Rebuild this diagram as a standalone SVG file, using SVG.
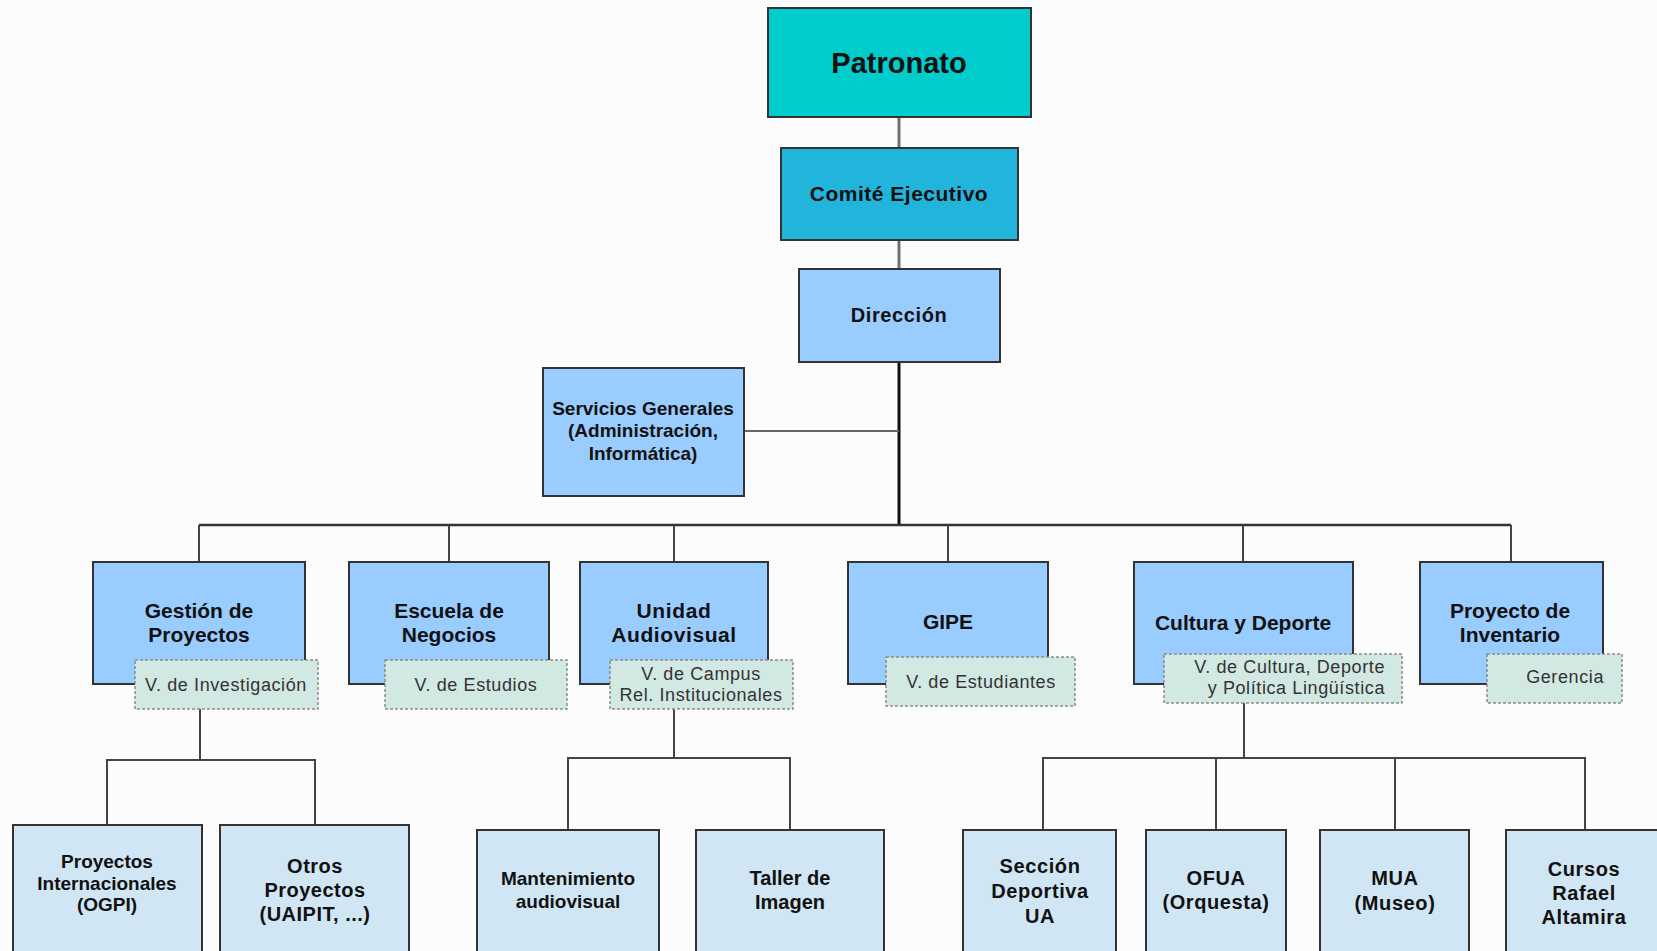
<svg xmlns="http://www.w3.org/2000/svg" width="1657" height="951" viewBox="0 0 1657 951">
<style>
.bx{stroke:#333;stroke-width:2}
.top{fill:#00CCCC}
.ce{fill:#22B5DB}
.l2{fill:#99CCFF}
.l3{fill:#D0E6F5}
.tag{fill:#D2E8E3;stroke:#8a8a8a;stroke-width:1.5;stroke-dasharray:3 2}
.t{font-family:"Liberation Sans",Arial,sans-serif;font-weight:bold;fill:#111;text-anchor:middle}
.tg{font-family:"Liberation Sans",Arial,sans-serif;font-size:18px;letter-spacing:0.6px;fill:#333;text-anchor:middle}
.tr{text-anchor:end}
.c{stroke:#444;stroke-width:2;fill:none}
.cg{stroke:#707070;stroke-width:3;fill:none}
.main{stroke:#111;stroke-width:3;fill:none}
</style>
<rect x="0" y="0" width="1657" height="951" fill="#FCFCFC"/>
<g id="connectors">
<line class="cg" x1="899" y1="117" x2="899" y2="148"/>
<line class="cg" x1="899" y1="240" x2="899" y2="269"/>
<line class="main" x1="899" y1="362" x2="899" y2="526"/>
<line class="c" x1="745" y1="431" x2="899" y2="431" style="stroke:#666"/>
<line class="c" x1="199" y1="525" x2="1511" y2="525" style="stroke-width:2.5;stroke:#333"/>
<line class="c" x1="199" y1="525" x2="199" y2="562"/>
<line class="c" x1="449" y1="525" x2="449" y2="562"/>
<line class="c" x1="674" y1="525" x2="674" y2="562"/>
<line class="c" x1="948" y1="525" x2="948" y2="562"/>
<line class="c" x1="1243" y1="525" x2="1243" y2="562"/>
<line class="c" x1="1511" y1="525" x2="1511" y2="562"/>
<polyline class="c" points="200,709 200,760"/>
<polyline class="c" points="107,825 107,760 315,760 315,825"/>
<polyline class="c" points="674,709 674,758"/>
<polyline class="c" points="568,830 568,758 790,758 790,830"/>
<polyline class="c" points="1244,703 1244,758"/>
<polyline class="c" points="1043,830 1043,758 1585,758 1585,830"/>
<line class="c" x1="1216" y1="758" x2="1216" y2="830"/>
<line class="c" x1="1395" y1="758" x2="1395" y2="830"/>
</g>
<g id="patronato">
<rect class="bx top" x="768" y="8" width="263" height="109"/>
<text class="t" x="899" y="73" font-size="29">Patronato</text>
</g>
<g id="comite">
<rect class="bx ce" x="781" y="148" width="237" height="92"/>
<text class="t" x="899" y="201" font-size="21" letter-spacing="0.5">Comité Ejecutivo</text>
</g>
<g id="direccion">
<rect class="bx l2" x="799" y="269" width="201" height="93"/>
<text class="t" x="899" y="322" font-size="20" letter-spacing="0.6">Dirección</text>
</g>
<g id="servicios">
<rect class="bx l2" x="543" y="368" width="201" height="128"/>
<text class="t" x="643" y="415" font-size="19">Servicios Generales</text>
<text class="t" x="643" y="437" font-size="19">(Administración,</text>
<text class="t" x="643" y="460" font-size="19">Informática)</text>
</g>
<g id="gestion">
<rect class="bx l2" x="93" y="562" width="212" height="122"/>
<text class="t" x="199" y="618" font-size="21">Gestión de</text>
<text class="t" x="199" y="642" font-size="21">Proyectos</text>
<rect class="tag" x="135" y="660" width="183" height="49"/>
<text class="tg" x="226" y="691">V. de Investigación</text>
</g>
<g id="escuela">
<rect class="bx l2" x="349" y="562" width="200" height="122"/>
<text class="t" x="449" y="618" font-size="21">Escuela de</text>
<text class="t" x="449" y="642" font-size="21">Negocios</text>
<rect class="tag" x="385" y="660" width="182" height="49"/>
<text class="tg" x="476" y="691">V. de Estudios</text>
</g>
<g id="unidad">
<rect class="bx l2" x="580" y="562" width="188" height="122"/>
<text class="t" x="674" y="618" font-size="21" letter-spacing="0.6">Unidad</text>
<text class="t" x="674" y="642" font-size="21" letter-spacing="0.6">Audiovisual</text>
<rect class="tag" x="610" y="660" width="183" height="49"/>
<text class="tg" x="701" y="680">V. de Campus</text>
<text class="tg" x="701" y="701">Rel. Institucionales</text>
</g>
<g id="gipe">
<rect class="bx l2" x="848" y="562" width="200" height="122"/>
<text class="t" x="948" y="629" font-size="21">GIPE</text>
<rect class="tag" x="886" y="657" width="189" height="49"/>
<text class="tg" x="981" y="688">V. de Estudiantes</text>
</g>
<g id="cultura">
<rect class="bx l2" x="1134" y="562" width="219" height="122"/>
<text class="t" x="1243" y="630" font-size="21">Cultura y Deporte</text>
<rect class="tag" x="1164" y="654" width="238" height="49"/>
<text class="tg tr" x="1385" y="673">V. de Cultura, Deporte</text>
<text class="tg tr" x="1385" y="694">y Política Lingüística</text>
</g>
<g id="inventario">
<rect class="bx l2" x="1420" y="562" width="183" height="122"/>
<text class="t" x="1510" y="618" font-size="21">Proyecto de</text>
<text class="t" x="1510" y="642" font-size="21">Inventario</text>
<rect class="tag" x="1487" y="654" width="135" height="49"/>
<text class="tg tr" x="1604" y="683">Gerencia</text>
</g>
<g id="ogpi">
<rect class="bx l3" x="13" y="825" width="189" height="140"/>
<text class="t" x="107" y="868" font-size="19">Proyectos</text>
<text class="t" x="107" y="890" font-size="19">Internacionales</text>
<text class="t" x="107" y="911" font-size="19">(OGPI)</text>
</g>
<g id="otros">
<rect class="bx l3" x="220" y="825" width="189" height="140"/>
<text class="t" x="315" y="873" font-size="20" letter-spacing="0.5">Otros</text>
<text class="t" x="315" y="897" font-size="20" letter-spacing="0.5">Proyectos</text>
<text class="t" x="315" y="921" font-size="20" letter-spacing="0.5">(UAIPIT, ...)</text>
</g>
<g id="mantenimiento">
<rect class="bx l3" x="477" y="830" width="182" height="135"/>
<text class="t" x="568" y="885" font-size="19">Mantenimiento</text>
<text class="t" x="568" y="908" font-size="19">audiovisual</text>
</g>
<g id="taller">
<rect class="bx l3" x="696" y="830" width="188" height="135"/>
<text class="t" x="790" y="885" font-size="20">Taller de</text>
<text class="t" x="790" y="909" font-size="20">Imagen</text>
</g>
<g id="seccion">
<rect class="bx l3" x="963" y="830" width="153" height="135"/>
<text class="t" x="1040" y="873" font-size="20" letter-spacing="0.6">Sección</text>
<text class="t" x="1040" y="898" font-size="20" letter-spacing="0.6">Deportiva</text>
<text class="t" x="1040" y="923" font-size="20" letter-spacing="0.6">UA</text>
</g>
<g id="ofua">
<rect class="bx l3" x="1146" y="830" width="140" height="135"/>
<text class="t" x="1216" y="885" font-size="20" letter-spacing="0.6">OFUA</text>
<text class="t" x="1216" y="909" font-size="20" letter-spacing="0.6">(Orquesta)</text>
</g>
<g id="mua">
<rect class="bx l3" x="1320" y="830" width="149" height="135"/>
<text class="t" x="1395" y="885" font-size="20" letter-spacing="0.6">MUA</text>
<text class="t" x="1395" y="910" font-size="20" letter-spacing="0.6">(Museo)</text>
</g>
<g id="cursos">
<rect class="bx l3" x="1506" y="830" width="160" height="135"/>
<text class="t" x="1584" y="876" font-size="20" letter-spacing="0.6">Cursos</text>
<text class="t" x="1584" y="900" font-size="20" letter-spacing="0.6">Rafael</text>
<text class="t" x="1584" y="924" font-size="20" letter-spacing="0.6">Altamira</text>
</g>
</svg>
